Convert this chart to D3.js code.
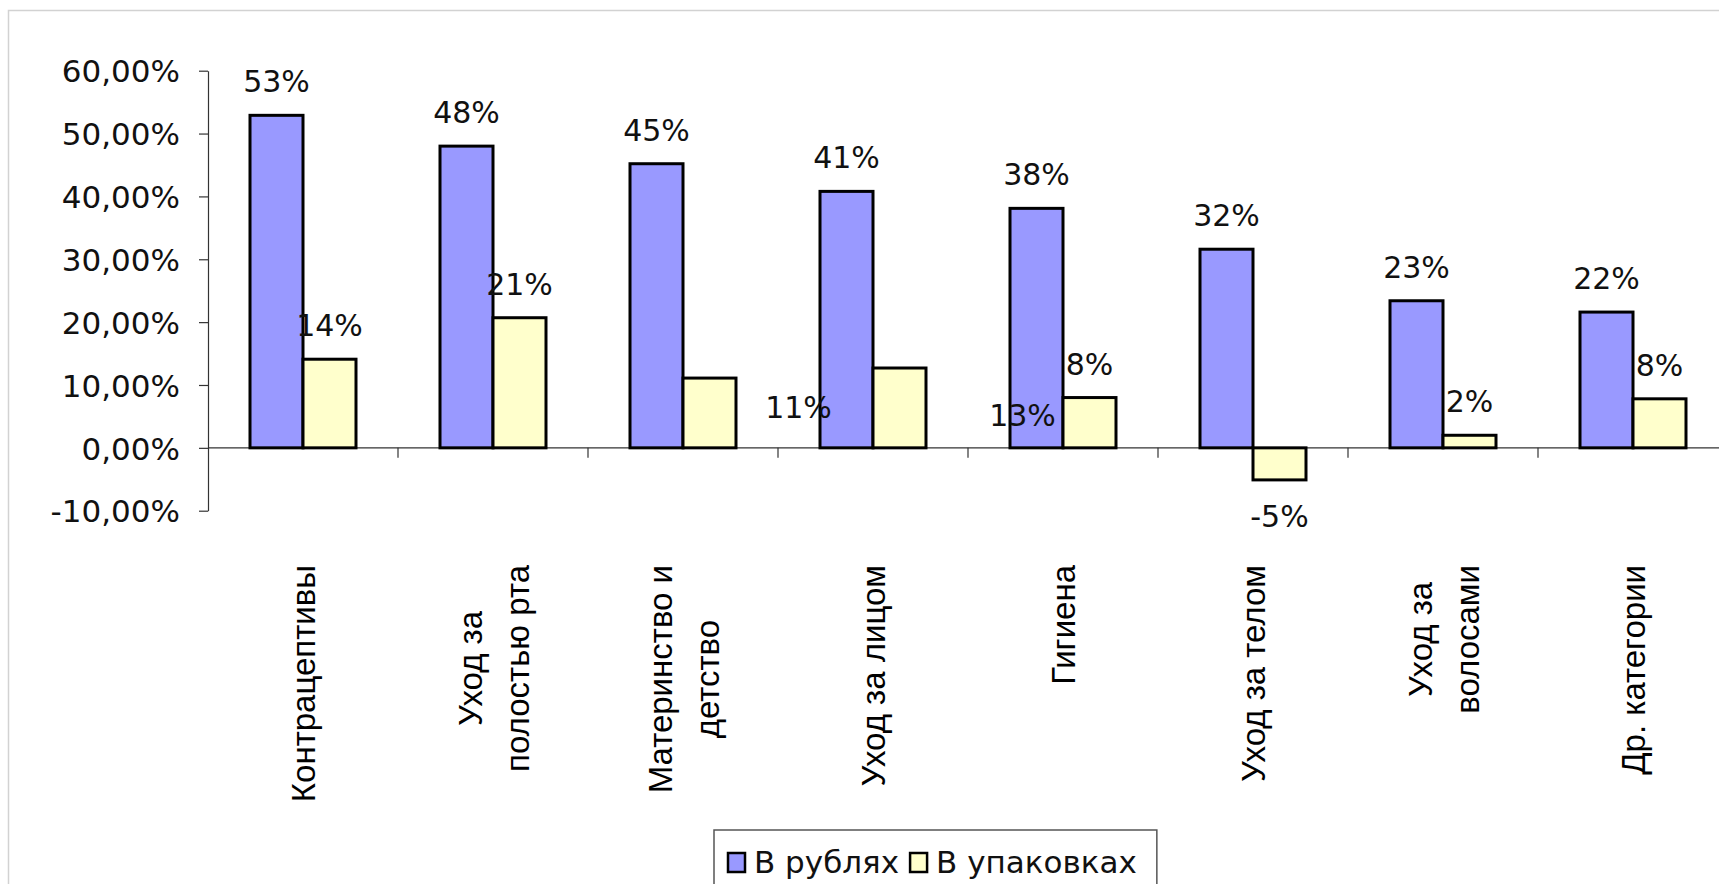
<!DOCTYPE html>
<html>
<head>
<meta charset="utf-8">
<script src="https://cdn.jsdelivr.net/npm/d3@7"></script>
<style>
  html, body { margin: 0; padding: 0; background: #fff; }
  svg { display: block; }
</style>
</head>
<body>
<svg id="chart" width="1719" height="884"></svg>
<script>
// Product categories (line breaks as shown under the axis)
const categories = [
  ["Контрацептивы"],
  ["Уход за", "полостью рта"],
  ["Материнство и", "детство"],
  ["Уход за лицом"],
  ["Гигиена"],
  ["Уход за телом"],
  ["Уход за", "волосами"],
  ["Др. категории"]
];
const seriesNames = ["В рублях", "В упаковках"];
// Growth in roubles and in packs, as shares
const rubles = [0.529, 0.480, 0.452, 0.408, 0.381, 0.316, 0.234, 0.216];
const packs  = [0.141, 0.207, 0.111, 0.127, 0.080, -0.051, 0.020, 0.078];
const yTicks = [-0.1, 0, 0.1, 0.2, 0.3, 0.4, 0.5, 0.6];

const colors = ["#9999FF", "#FFFFCC"];
const W = 1719, H = 884;
const svg = d3.select("#chart");

svg.append("rect").attr("width", W).attr("height", H).attr("fill", "#fff");

// thin frame along top and left
svg.append("path")
  .attr("d", `M8.5,${H} V10.5 H${W}`)
  .attr("fill", "none").attr("stroke", "#d2d2d2").attr("stroke-width", 1.5);

const catKeys = categories.map(c => c.join(" "));
const x = d3.scaleBand().domain(catKeys).range([208, 1728]).padding(0);
const xs = d3.scaleBand().domain(seriesNames).range([0, x.bandwidth()])
  .paddingInner(0).paddingOuter(0.7925);
const y = d3.scaleLinear().domain([-0.1, 0.6]).range([510.7, 70.7]);

const numFont = "'DejaVu Sans', Verdana, sans-serif";
const catFont = "'Liberation Sans', Arial, sans-serif";

// Y axis
const yAxis = d3.axisLeft(y)
  .tickValues(yTicks)
  .tickSize(9).tickSizeOuter(0).tickPadding(19)
  .tickFormat(d => (d * 100).toFixed(2).replace(".", ",") + "%");
const gy = svg.append("g").attr("transform", "translate(208,0)").call(yAxis);
gy.select(".domain").attr("stroke", "#333").attr("stroke-width", 1.2);
gy.selectAll(".tick line").attr("stroke", "#333").attr("stroke-width", 1.2);
gy.selectAll(".tick text")
  .attr("fill", "#111").style("font-family", numFont).style("font-size", "31px")
  .attr("dy", "0.36em");

// Zero line and category separators
svg.append("line")
  .attr("x1", 208).attr("x2", W).attr("y1", y(0)).attr("y2", y(0))
  .attr("stroke", "#333").attr("stroke-width", 1.2);
svg.append("g").selectAll("line")
  .data(catKeys.slice(1))
  .join("line")
  .attr("x1", d => x(d)).attr("x2", d => x(d))
  .attr("y1", y(0)).attr("y2", y(0) + 10)
  .attr("stroke", "#333").attr("stroke-width", 1.2);

// Bars
const marks = [];
catKeys.forEach((c, i) => {
  [rubles[i], packs[i]].forEach((v, j) => marks.push({ cat: c, i, j, s: seriesNames[j], v }));
});

svg.append("g").selectAll("rect")
  .data(marks)
  .join("rect")
  .attr("x", d => x(d.cat) + xs(d.s))
  .attr("width", xs.bandwidth())
  .attr("y", d => y(Math.max(0, d.v)))
  .attr("height", d => Math.abs(y(d.v) - y(0)))
  .attr("fill", d => colors[d.j])
  .attr("stroke", "#000").attr("stroke-width", 3);

// Value labels, drawn over all bars; two pack labels sit shifted off their bars
const labelShift = { "2-1": [89, 63], "3-1": [123, 81] };
const shift = d => labelShift[d.i + "-" + d.j] || [0, 0];
const pct = v => Math.round(v * 100) + "%";
svg.append("g").selectAll("text")
  .data(marks)
  .join("text")
  .attr("x", d => x(d.cat) + xs(d.s) + xs.bandwidth() / 2 + shift(d)[0])
  .attr("y", d => (d.v >= 0 ? y(d.v) - 23 : y(d.v) + 47) + shift(d)[1])
  .attr("text-anchor", "middle")
  .style("font-family", numFont).style("font-size", "30px")
  .attr("fill", "#111")
  .text(d => pct(d.v));

// Category labels, rotated, lines centred on each other, block starting below the axis
const labelTop = 565, lineGap = 47, capHalf = 12;
categories.forEach((lines, i) => {
  const cx = x(catKeys[i]) + x.bandwidth() / 2;
  const g = svg.append("g");
  const texts = lines.map(t => g.append("text")
    .style("font-family", catFont).style("font-size", "33px")
    .attr("fill", "#000").attr("text-anchor", "middle").text(t));
  const maxLen = d3.max(texts, t => t.node().getComputedTextLength());
  const cy = labelTop + maxLen / 2;
  texts.forEach((t, k) => {
    const bx = cx + (k - (lines.length - 1) / 2) * lineGap + capHalf;
    t.attr("transform", `translate(${bx},${cy}) rotate(-90)`);
  });
});

// Legend
const legend = svg.append("g");
let lx = 728;
seriesNames.forEach((name, j) => {
  legend.append("rect")
    .attr("x", lx).attr("y", 853).attr("width", 17).attr("height", 19)
    .attr("fill", colors[j]).attr("stroke", "#000").attr("stroke-width", 2.5);
  lx += 17 + 9;
  const t = legend.append("text")
    .attr("x", lx).attr("y", 872.5)
    .style("font-family", numFont).style("font-size", "31px")
    .attr("fill", "#111").text(name);
  lx += t.node().getComputedTextLength() + 11;
});
legend.insert("rect", ":first-child")
  .attr("x", 714).attr("y", 830)
  .attr("width", lx - 11 + 20 - 714).attr("height", 80)
  .attr("fill", "#fff").attr("stroke", "#555").attr("stroke-width", 1.5);
</script>
</body>
</html>
